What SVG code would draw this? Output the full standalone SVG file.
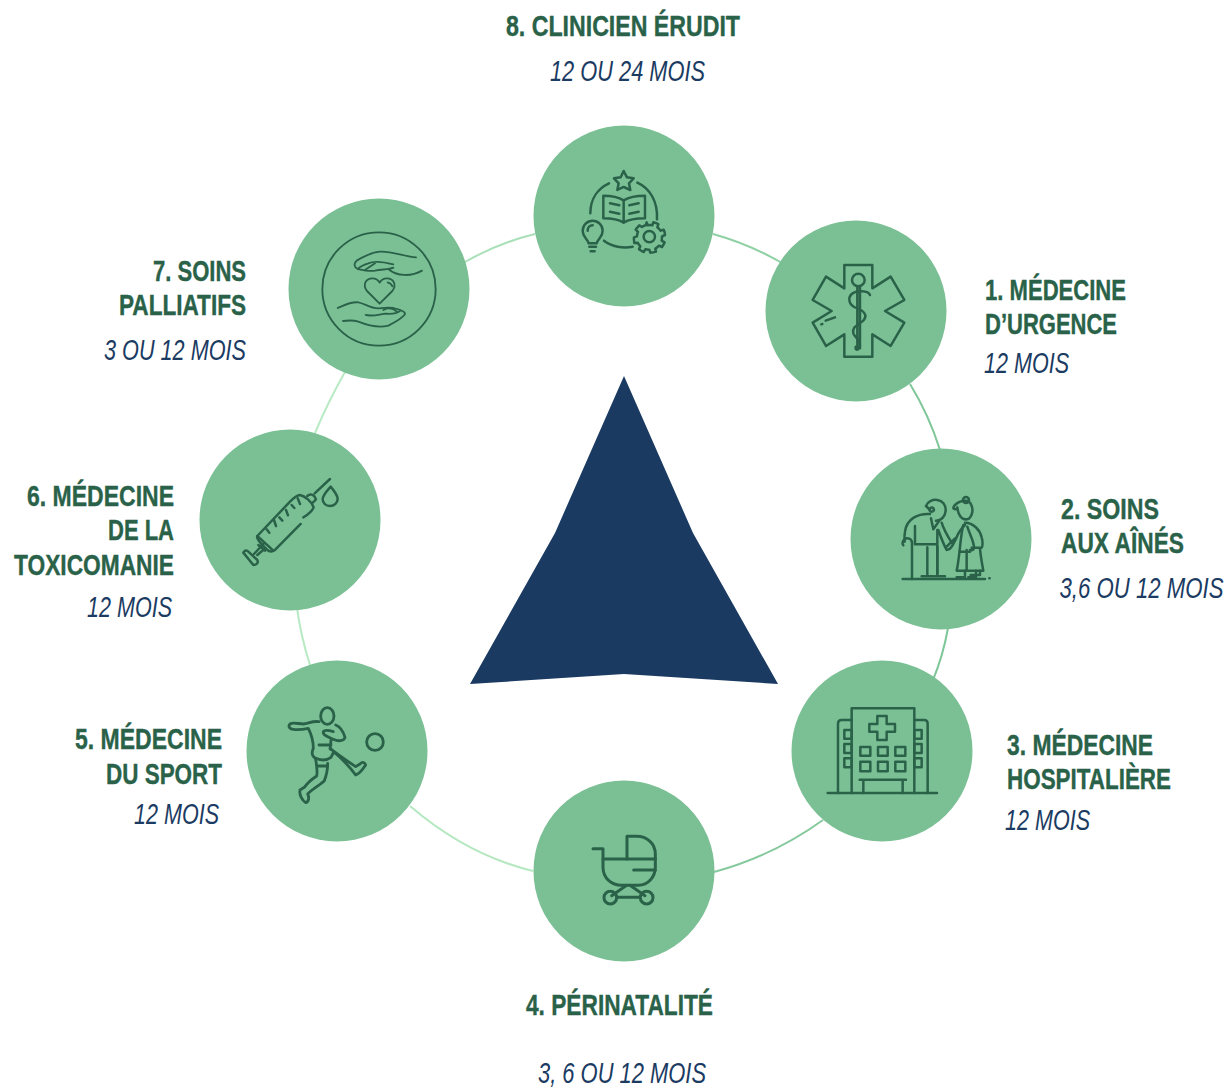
<svg xmlns="http://www.w3.org/2000/svg" width="1229" height="1090" viewBox="0 0 1229 1090">
<style>
.c{fill:#7bc095}
.h{font:bold 30px "Liberation Sans",Arial,sans-serif;fill:#2a6249;stroke:#2a6249;stroke-width:.4}
.s{font:italic 30px "Liberation Sans",Arial,sans-serif;fill:#1b3b62}
.i{fill:none;stroke:#2a6249;stroke-width:7.5;stroke-linecap:round;stroke-linejoin:round}
.t{fill:none;stroke:#2a6249;stroke-width:5.5;stroke-linecap:round;stroke-linejoin:round}
.a{fill:none;stroke-width:2}
</style>
<rect width="1229" height="1090" fill="#fff"/>
<g id="connectors">
<path class="a" stroke="#8fd0a4" d="M713,234 Q749,244 782,263"/>
<path class="a" stroke="#7fc698" d="M910,384 Q929,415 940,450"/>
<path class="a" stroke="#7fc698" d="M948,628 Q943,656 933,680"/>
<path class="a" stroke="#85c99d" d="M823,820 Q773,856 714,872"/>
<path class="a" stroke="#b5e8c0" d="M533,871 Q467,855 410,806"/>
<path class="a" stroke="#b8eac4" d="M310,665 Q301,637 297,608"/>
<path class="a" stroke="#b8eac4" d="M315,433 Q328,402 345,372"/>
<path class="a" stroke="#a9e0b8" d="M465,262 Q498,243 535,234"/>
</g>
<polygon id="centre" fill="#1a3a61" points="624,376 555,533 470,684 624,674 778,684 693,533"/>
<g id="n8">
<circle class="c" cx="624" cy="216" r="90.5"/>
<g class="i" transform="translate(530 120) scale(.3333)">
<path d="M281,153 L291,172 L311,175 L297,190 L301,210 L281,201 L262,210 L266,190 L252,175 L272,172Z"/>
<path d="M237,190 C205,205 181,235 181,280"/>
<path d="M322,188 C360,205 384,245 381,298"/>
<path d="M222,362 C245,380 280,386 308,380"/>
<path d="M281,241 C262,229 243,227 220,227 V295 C245,295 265,298 281,308 C297,298 320,295 345,295 V227 C320,227 300,229 281,241 V308"/>
<path d="M240,250 L268,256 M240,275 L268,281 M298,256 L326,250 M298,281 L326,275"/>
<path d="M176,370 C172,355 158,352 158,332 C158,315 172,302 188,302 C204,302 218,315 218,332 C218,352 204,355 200,370 Z M173,332 C173,322 180,316 188,316"/>
<path d="M178,380 H198 M182,394 H194"/>
<circle cx="358" cy="350" r="17"/>
<path d="M350,307 L353,316 C358,315 363,315 367,316 L370,307 C375,308 381,310 385,313 L382,322 C386,325 389,328 392,332 L401,329 C403,333 405,339 405,345 L396,349 C396,353 396,357 395,362 L404,367 C402,372 399,377 396,381 L387,377 C384,380 380,384 376,386 L378,395 C373,397 367,398 361,398 L358,389 C354,389 350,389 346,388 L341,396 C336,394 331,391 327,388 L331,379 C328,376 325,372 323,368 L313,369 C312,363 311,357 312,352 L321,349 C321,345 322,340 324,336 L317,329 C320,324 324,320 328,316 L336,321 C339,319 343,317 347,316 Z"/>
</g>
</g>
<g id="n1">
<circle class="c" cx="856" cy="311" r="90.5"/>
<g class="i" transform="translate(760 220) scale(.3333)">
<path d="M253,135 H337 V205 L392,170 L433,240 L375,273 L433,308 L392,378 L337,343 V410 H253 V343 L198,378 L158,308 L215,273 L158,240 L198,170 L253,205 Z"/>
<circle cx="295" cy="180" r="19"/>
<path d="M292,200 V385 M300,200 V385"/>
<path d="M330,225 C325,212 290,210 275,222 C262,235 268,255 285,262 C310,270 325,285 310,302 C295,315 275,320 280,340 C285,355 305,360 298,380 C295,392 285,392 287,380"/>
<path d="M197,302 L225,292"/>
<path d="M184,313 L187,312"/>
</g>
</g>
<g id="n2">
<circle class="c" cx="941" cy="539" r="90.5"/>
<g class="i" transform="translate(850 450) scale(.3333)">
<path d="M158,387 H405 M418,385 H419"/>
<path d="M228,168 C232,155 248,148 262,150 C278,152 288,165 287,182 C286,198 275,212 258,212 M228,168 L240,180 C238,172 250,168 252,180 C250,188 240,186 238,180"/>
<path d="M240,192 C205,190 170,205 165,245 C163,255 163,265 164,275 M243,205 L250,238 L268,212"/>
<path d="M195,228 V282 M186,280 V387 M170,265 C158,268 155,280 160,286 M170,265 C180,264 186,270 186,280"/>
<path d="M195,283 H262 M265,240 C272,260 282,285 290,300 M275,218 C280,235 295,262 305,278 M262,240 V372"/>
<path d="M232,292 V375 M262,290 V375 M215,379 H250 M255,379 H285"/>
<path d="M290,298 C300,302 305,292 320,262 C325,248 335,235 345,225 M290,290 C298,282 308,270 320,262"/>
<path d="M330,155 C320,160 310,165 310,175 C316,180 320,178 322,172 C325,200 340,215 358,205 C368,195 370,178 364,165 C358,150 345,150 330,155 Z"/>
<circle cx="348" cy="150" r="9"/>
<path d="M345,218 C370,218 390,240 395,262 C399,275 398,290 395,293 H365 M352,230 C358,250 370,270 372,290 C372,298 370,302 360,300"/>
<path d="M340,225 C332,250 328,330 320,362 H400 C396,340 392,320 390,295 M328,305 H360 M350,300 V362"/>
<path d="M345,362 V382 H320 M378,362 V382 H355 M362,375 H390 V362"/>
</g>
</g>
<g id="n3">
<circle class="c" cx="882" cy="751" r="90.5"/>
<g class="i" transform="translate(790 660) scale(.3333)">
<path d="M113,399 H441"/>
<path d="M185,399 V145 H373 V399"/>
<path d="M185,180 H155 Q144,180 144,191 V399 M373,180 H402 Q413,180 413,191 V399"/>
<path d="M262,168 H290 V192 H315 V215 H290 V240 H262 V215 H238 V192 H262 Z"/>
<path d="M211,261 H241 V287 H211 Z M264,261 H293 V287 H264 Z M316,261 H346 V287 H316 Z M211,305 H241 V334 H211 Z M264,305 H293 V334 H264 Z M316,305 H346 V334 H316 Z"/>
<path d="M163,210 H185 V236 H163 Z M163,252 H185 V279 H163 Z M163,295 H185 V322 H163 Z M373,210 H395 V236 H373 Z M373,252 H395 V279 H373 Z M373,295 H395 V322 H373 Z"/>
<path d="M209,359 H348 M220,359 V399 M338,359 V399"/>
</g>
</g>
<g id="n4">
<circle class="c" cx="624" cy="871" r="90.5"/>
<g class="i" transform="translate(530 780)  scale(.3333)" style="stroke-width:9">
<path d="M189,206 H219 V262 C219,295 245,316 275,316 H325 C355,316 376,290 376,262 V222 C376,190 350,169 320,169 H291 V237"/>
<path d="M219,237 H376 M311,270 H376"/>
<path d="M290,316 L245,347 M300,316 L345,347 M262,352 H328"/>
<circle cx="241" cy="353" r="19"/>
<circle cx="350" cy="353" r="19"/>
</g>
</g>
<g id="n5">
<circle class="c" cx="337" cy="751" r="90.5"/>
<g class="i" transform="translate(245 660) scale(.3333)" style="stroke-width:8.500">
<ellipse cx="247" cy="168" rx="20" ry="25"/>
<circle cx="390" cy="246" r="25"/>
<path d="M222,185 C205,182 190,190 175,192 C160,192 145,186 135,192 C128,200 135,208 145,208 C160,210 175,208 190,205 C200,225 205,250 205,265 C198,280 202,292 215,296 C230,302 245,302 258,292 C262,284 264,280 266,275 C290,295 310,315 332,345 C345,342 355,325 362,315 C358,305 352,305 345,312 L332,320 C310,305 280,285 255,265"/>
<path d="M272,195 C285,200 295,215 300,232 C296,244 280,245 265,238 C250,232 232,225 235,215 C240,208 255,212 265,215 M258,240 L256,268 M222,255 H258"/>
<path d="M212,298 C215,315 218,335 215,348 C200,358 188,368 178,382 L165,390 C162,405 172,422 182,428 C192,425 193,412 188,402 C205,385 225,375 238,362 C245,345 248,330 248,310 M218,318 H248"/>
</g>
</g>
<g id="n6">
<circle class="c" cx="290" cy="520" r="90.5"/>
<g class="i" transform="translate(200 430) scale(.3333)">
<path d="M390,147 L344,190"/>
<path d="M322,198 C330,190 342,192 348,208 C345,212 342,216 338,218"/>
<path d="M310,262 C325,255 338,240 341,232 C335,215 315,198 300,195 C288,196 280,205 270,215 L172,318 C168,325 180,338 200,358 C210,368 218,365 225,360 L302,282"/>
<path d="M172,318 L220,362"/>
<path d="M200,298 L208,308 M222,270 L228,288 M238,262 L247,272 M258,240 L264,256 M275,225 L283,234 M293,205 L300,222"/>
<path d="M190,342 L162,372 M175,345 L195,362 M172,375 L195,355"/>
<path d="M130,368 C135,360 140,360 145,365 L172,390 C176,398 170,405 160,405 Z"/>
<path d="M392,170 C382,182 368,195 368,208 C368,220 378,228 390,228 C403,228 413,218 413,206 C413,195 402,182 392,170 Z"/>
</g>
</g>
<g id="n7">
<circle class="c" cx="379" cy="289" r="90.5"/>
<g class="t" transform="translate(285 195) scale(.3333)">
<circle cx="282" cy="282" r="170"/>
<path d="M393,187 C360,185 320,168 285,170 C260,172 235,185 215,197 C205,205 208,218 218,222 C232,225 255,230 270,227 C290,222 310,225 325,218 M218,222 C225,215 235,210 250,205 C265,198 285,198 325,208 M310,222 C335,245 380,245 411,227 M240,225 L270,205"/>
<path d="M284,326 L246,288 C232,270 242,250 262,250 C272,250 280,255 284,263 C288,255 296,250 306,250 C326,250 336,270 322,288 Z M308,262 C315,264 320,268 322,274"/>
<path d="M158,339 C175,332 195,320 220,322 C240,325 255,342 285,340 C300,338 318,335 335,342 C350,346 362,350 360,358 C350,372 330,382 310,392 C280,400 250,392 220,380 C205,375 190,376 174,378"/>
<path d="M242,360 C260,365 285,358 300,356 C310,356 330,360 345,348 M295,345 C305,340 315,336 320,340 M310,340 C320,340 328,342 335,350"/>
</g>
</g>
<g id="labels">
<text class="h" x="506" y="36" textLength="234" lengthAdjust="spacingAndGlyphs">8. CLINICIEN ÉRUDIT</text>
<text class="s" x="550" y="81" textLength="155" lengthAdjust="spacingAndGlyphs">12 OU 24 MOIS</text>
<text class="h" x="985" y="300" textLength="141" lengthAdjust="spacingAndGlyphs">1. MÉDECINE</text>
<text class="h" x="985" y="334" textLength="132" lengthAdjust="spacingAndGlyphs">D’URGENCE</text>
<text class="s" x="984" y="373" textLength="85" lengthAdjust="spacingAndGlyphs">12 MOIS</text>
<text class="h" x="1061" y="519" textLength="98" lengthAdjust="spacingAndGlyphs">2. SOINS</text>
<text class="h" x="1061" y="553" textLength="123" lengthAdjust="spacingAndGlyphs">AUX AÎNÉS</text>
<text class="s" transform="translate(1059.500 598) scale(.74 1)">3,6 OU 12 MOIS</text>
<text class="h" x="1007" y="755" textLength="146" lengthAdjust="spacingAndGlyphs">3. MÉDECINE</text>
<text class="h" x="1007" y="789" textLength="164" lengthAdjust="spacingAndGlyphs">HOSPITALIÈRE</text>
<text class="s" x="1005" y="830" textLength="85" lengthAdjust="spacingAndGlyphs">12 MOIS</text>
<text class="h" x="526" y="1015" textLength="187" lengthAdjust="spacingAndGlyphs">4. PÉRINATALITÉ</text>
<text class="s" x="538" y="1083" textLength="168" lengthAdjust="spacingAndGlyphs">3, 6 OU 12 MOIS</text>
<text class="h" x="75" y="749" textLength="147" lengthAdjust="spacingAndGlyphs">5. MÉDECINE</text>
<text class="h" x="106" y="784" textLength="116" lengthAdjust="spacingAndGlyphs">DU SPORT</text>
<text class="s" x="134" y="824" textLength="85" lengthAdjust="spacingAndGlyphs">12 MOIS</text>
<text class="h" x="27" y="506" textLength="147" lengthAdjust="spacingAndGlyphs">6. MÉDECINE</text>
<text class="h" x="108" y="540" textLength="66" lengthAdjust="spacingAndGlyphs">DE LA</text>
<text class="h" x="14" y="575" textLength="160" lengthAdjust="spacingAndGlyphs">TOXICOMANIE</text>
<text class="s" x="87" y="617" textLength="85" lengthAdjust="spacingAndGlyphs">12 MOIS</text>
<text class="h" x="153" y="281" textLength="93" lengthAdjust="spacingAndGlyphs">7. SOINS</text>
<text class="h" x="119" y="315" textLength="127" lengthAdjust="spacingAndGlyphs">PALLIATIFS</text>
<text class="s" x="104" y="360" textLength="142" lengthAdjust="spacingAndGlyphs">3 OU 12 MOIS</text>
</g>
</svg>
